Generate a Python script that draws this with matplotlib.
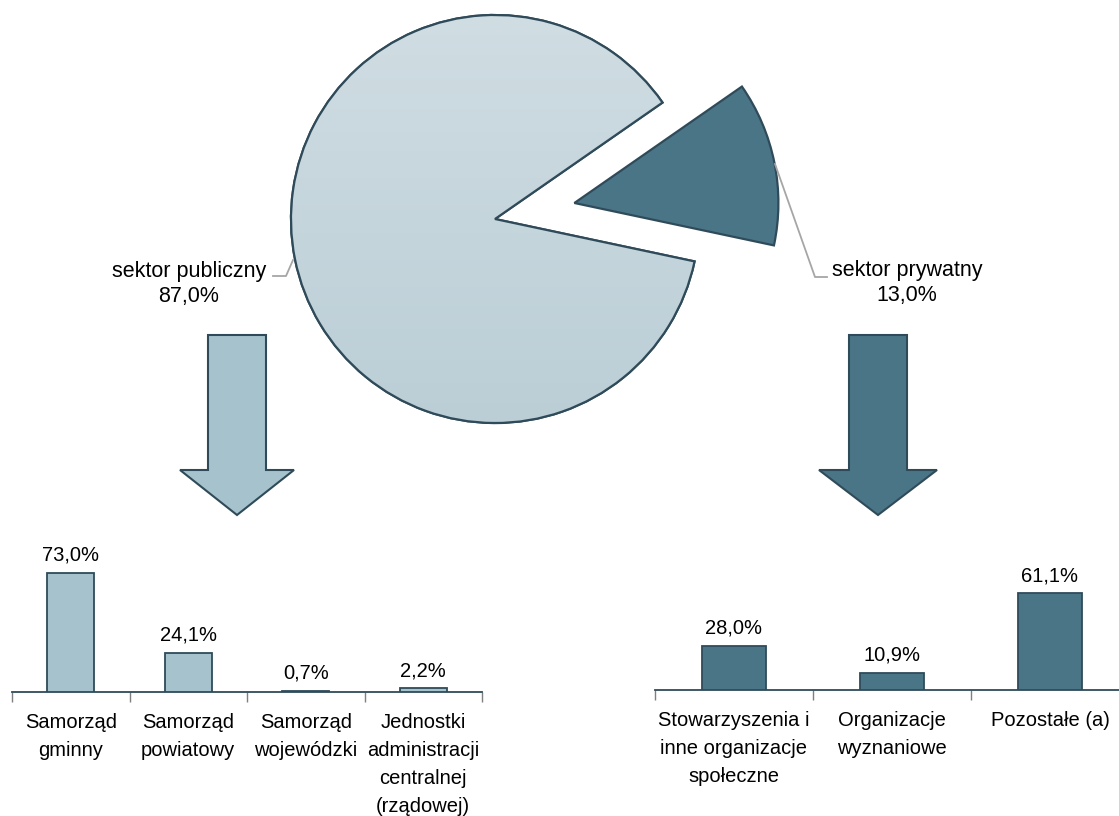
import numpy as np
import matplotlib
matplotlib.use("Agg")
import matplotlib.pyplot as plt
from matplotlib.patches import Polygon, PathPatch

# ---- data ----
sector_labels = ["sektor prywatny", "sektor publiczny"]
sector_values = [13.0, 87.0]

public_cats = ["Samorząd\ngminny", "Samorząd\npowiatowy", "Samorząd\nwojewódzki",
               "Jednostki\nadministracji\ncentralnej\n(rządowej)"]
public_vals = [73.0, 24.1, 0.7, 2.2]

private_cats = ["Stowarzyszenia i\ninne organizacje\nspołeczne", "Organizacje\nwyznaniowe",
                "Pozostałe (a)"]
private_vals = [28.0, 10.9, 61.1]

def fmt(v):
    return f"{v:.1f}".replace(".", ",") + "%"

plt.rcParams['font.family'] = ['Liberation Sans', 'DejaVu Sans']

W, H = 1119, 816
fig = plt.figure(figsize=(W / 100, H / 100), dpi=100)

EDGE = "#2f4b5a"
LIGHT = "#a6c3cd"
DARK = "#4a7587"
GRAY = "#a6a6a6"
FS = 14.5
FS_PIE = 15.5

# overlay axes in pixel coordinates (y up)
ov = fig.add_axes([0, 0, 1, 1])
ov.axis("off")

# pie
cx, cy, R = 495, H - 219, 204
wedges, _ = ov.pie(sector_values, startangle=-12, counterclock=True,
                   colors=[DARK, "#c5d5dc"], explode=[81, 0.0],
                   center=(cx, cy), radius=R,
                   wedgeprops=dict(edgecolor=EDGE, linewidth=1.6))
ov.set_xlim(0, W)
ov.set_ylim(0, H)
ov.set_aspect("auto")

# gradient on public slice
grad = np.linspace(0, 1, 256).reshape(-1, 1)
top = np.array([0xd0, 0xdd, 0xe3]) / 255
bot = np.array([0xbb, 0xce, 0xd6]) / 255
img = top[None, None, :] * (1 - grad[:, :, None]) + bot[None, None, :] * grad[:, :, None]
im = ov.imshow(img, extent=(cx - R, cx + R, cy - R, cy + R), origin="upper",
               aspect="auto", zorder=wedges[1].get_zorder() + 0.1)
im.set_clip_path(wedges[1])
pub_edge = PathPatch(wedges[1].get_path(), fill=False,
                     edgecolor=EDGE, linewidth=1.6, zorder=im.get_zorder() + 0.1)
ov.add_patch(pub_edge)
ov.set_xlim(0, W)
ov.set_ylim(0, H)
ov.set_aspect("auto")

# leader lines & labels
ov.plot([273, 286, 293], [H - 276, H - 276, H - 260], color=GRAY, lw=1.3)
ov.text(189, H - 284, f"{sector_labels[1]}\n{fmt(sector_values[1])}", ha="center",
        va="center", fontsize=FS_PIE, linespacing=1.3)
ov.plot([775, 815, 827], [H - 164, H - 277, H - 277], color=GRAY, lw=1.3)
ov.text(907, H - 283, f"{sector_labels[0]}\n{fmt(sector_values[0])}", ha="center",
        va="center", fontsize=FS_PIE, linespacing=1.3)

# arrows
def arrow(x0, x1, hx0, hx1, ytop, yhead, ytip, color):
    xm = (hx0 + hx1) / 2
    pts = [(x0, H - ytop), (x1, H - ytop), (x1, H - yhead), (hx1, H - yhead),
           (xm, H - ytip), (hx0, H - yhead), (x0, H - yhead)]
    ov.add_patch(Polygon(pts, closed=True, facecolor=color, edgecolor=EDGE, lw=1.5))

arrow(208, 266, 180, 294, 335, 470, 515, LIGHT)
arrow(849, 907, 819, 937, 335, 470, 515, DARK)

# bar charts
def bar_axes(x0, x1, ybase, pxper, ymax, cats, vals, color):
    ax_h = ymax * pxper
    ax = fig.add_axes([x0 / W, (H - ybase) / H, (x1 - x0) / W, ax_h / H])
    n = len(cats)
    x = np.arange(n)
    ax.bar(x, vals, width=0.4, color=color, edgecolor=EDGE, linewidth=1.3, zorder=3)
    ax.set_xlim(-0.5, n - 0.5)
    ax.set_ylim(0, ymax)
    for s in ["top", "right", "left"]:
        ax.spines[s].set_visible(False)
    ax.spines["bottom"].set_color(EDGE)
    ax.spines["bottom"].set_linewidth(1.3)
    ax.set_yticks([])
    ax.set_xticks(x)
    ax.set_xticklabels(cats, fontsize=FS, va="top")
    for lbl in ax.get_xticklabels():
        lbl.set_linespacing(1.6)
    ax.tick_params(axis="x", which="major", length=0, pad=15)
    ax.set_xticks(np.arange(n + 1) - 0.5, minor=True)
    ax.tick_params(axis="x", which="minor", length=7, width=1.0, color="#7f7f7f")
    ax.patch.set_alpha(0)
    for xi, v in zip(x, vals):
        ax.annotate(fmt(v), (xi, v), xytext=(0, 6), textcoords="offset points",
                    ha="center", va="bottom", fontsize=FS)
    return ax

bar_axes(12, 482, 692, 1.63, 80, public_cats, public_vals, LIGHT)
bar_axes(655, 1129, 690, 1.58, 80, private_cats, private_vals, DARK)

fig.savefig("out.png", dpi=100)
